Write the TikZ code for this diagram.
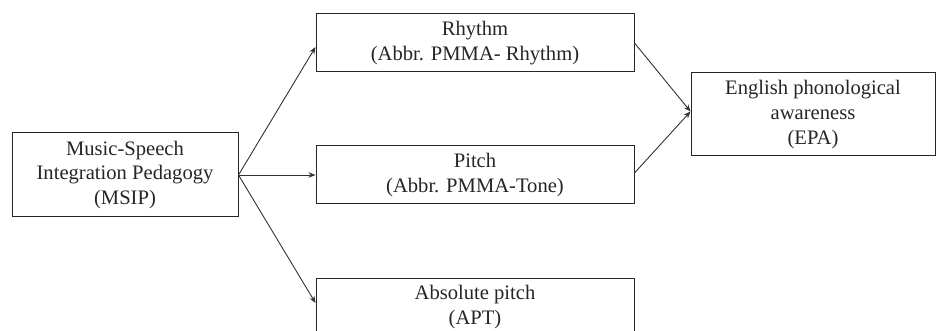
\documentclass[tikz,border=0pt]{standalone}
\usepackage{fontspec}
\setmainfont{Liberation Serif}
\usetikzlibrary{arrows.meta}
\begin{document}
\begin{tikzpicture}[x=1pt,y=-1pt,
  box/.style={draw=black!85, line width=1pt, inner sep=0pt, align=center,
    font=\fontsize{20.6}{24.7}\selectfont, text=black!85},
  arr/.style={draw=black!80, line width=0.9pt, -{Stealth[length=7pt,width=5.5pt]}},
  ln/.style={draw=black!80, line width=0.9pt}]
\useasboundingbox (0,0) rectangle (937,331);
\clip (0,0) rectangle (937,331);
\fill[white] (0,0) rectangle (937,331);
\node[box, minimum width=226pt, minimum height=84pt] (msip) at (125,175)
  {Music-Speech\\Integration Pedagogy\\(MSIP)};
\node[box, minimum width=318pt, minimum height=58pt] (rh) at (475,43)
  {Rhythm\\(Abbr. PMMA- Rhythm)};
\node[box, minimum width=318pt, minimum height=58pt] (pi) at (475,175)
  {Pitch\\(Abbr. PMMA-Tone)};
\node[box, minimum width=318pt, minimum height=58pt] (apt) at (475,307)
  {Absolute pitch\\(APT)};
\node[box, minimum width=244pt, minimum height=83pt] (epa) at (813,114.5)
  {English phonological\\awareness\\(EPA)};
\coordinate (rhin) at ([yshift=-4pt]rh.west);
\coordinate (aptin) at ([yshift=4pt]apt.west);
\coordinate (epain) at ([yshift=3pt]epa.west);
\coordinate (piout) at ([yshift=2pt]pi.east);
\draw[arr] (msip.east) -- (rhin);
\draw[arr] (msip.east) -- (pi.west);
\draw[arr] (msip.east) -- (aptin);
\draw[arr] (rh.east) -- (epain);
\draw[arr] (piout) -- (epain);
\end{tikzpicture}
\end{document}
